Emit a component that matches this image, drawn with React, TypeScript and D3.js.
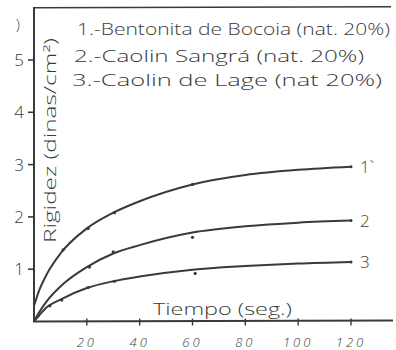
import React from "react";
import * as d3 from "d3";

// Time samples (s) and rigidity curves (dinas/cm²)
const times = [0, 2, 5, 10, 20, 30, 40, 60, 80, 100, 120];
const curve1 = [0.3, 0.6, 0.92, 1.3, 1.78, 2.08, 2.3, 2.62, 2.8, 2.9, 2.96];
const curve2 = [0.0, 0.18, 0.4, 0.67, 1.04, 1.3, 1.46, 1.7, 1.82, 1.89, 1.93];
const curve3 = [0.0, 0.12, 0.28, 0.42, 0.64, 0.77, 0.86, 0.99, 1.06, 1.11, 1.14];

// Measured points
const dots1: [number, number][] = [[11, 1.37], [20.5, 1.78], [30.5, 2.08], [60, 2.62]];
const dots2: [number, number][] = [[21, 1.04], [30, 1.33], [60, 1.61]];
const dots3: [number, number][] = [[6, 0.3], [10.5, 0.41], [20.5, 0.65], [30.5, 0.77], [61, 0.92]];

const xTicks = [20, 40, 60, 80, 100, 120];
const yTicks = [1, 2, 3, 4, 5];
const curveLabels = ["1`", "2", "3"];
const legendLines = [
  "1.-Bentonita de Bocoia (nat. 20%)",
  "2.-Caolin Sangrá (nat. 20%)",
  "3.-Caolin de Lage (nat 20%)",
];

const INK = "#3a3a3a";
const FONT = "'Open Sans', 'DejaVu Sans', sans-serif";

export default function App() {
  const x = d3.scaleLinear().domain([0, 120]).range([34, 351]);
  const y = d3.scaleLinear().domain([0, 6]).range([321.5, 7.7]);

  const line = d3
    .line<number>()
    .x((_, i) => x(times[i]))
    .y((v) => y(v))
    .curve(d3.curveMonotoneX);

  const series = [curve1, curve2, curve3];
  const dotSets = [dots1, dots2, dots3];
  const legendY = [35, 62, 86];
  const legendX = [77, 74, 72];
  const legendW = [313, 290, 310];

  return (
    <svg
      width={396}
      height={350}
      style={{ position: "absolute", left: 0, top: 0, background: "#fff" }}
      fontFamily={FONT}
      fontWeight={300}
    >
      {/* frame top and axes */}
      <line x1={33} y1={y(6)} x2={391} y2={y(6) - 1} stroke={INK} strokeWidth={1.4} />
      <line x1={x(0)} y1={y(6)} x2={x(0)} y2={y(0)} stroke={INK} strokeWidth={2} />
      <line x1={x(0) - 1} y1={y(0)} x2={393} y2={y(0) - 1} stroke={INK} strokeWidth={2} />

      {/* y ticks */}
      {yTicks.map((t) => (
        <g key={"y" + t}>
          <line x1={x(0) - 6} x2={x(0)} y1={y(t)} y2={y(t)} stroke={INK} strokeWidth={1.6} />
          <text x={19} y={y(t) + 6} fontSize={17} fill={INK} textAnchor="middle">
            {t}
          </text>
        </g>
      ))}
      <text x={18} y={30} fontSize={14} fill={INK} textAnchor="middle">)</text>

      {/* x ticks */}
      {xTicks.map((t) => (
        <g key={"x" + t}>
          <line x1={x(t)} x2={x(t)} y1={y(0) - 3} y2={y(0) + 4} stroke={INK} strokeWidth={1.4} />
          <text
            x={x(t)}
            y={347}
            fontSize={13}
            fill={INK}
            textAnchor="middle"
            fontStyle="italic"
            letterSpacing={3}
          >
            {t}
          </text>
        </g>
      ))}

      {/* axis titles */}
      <text x={153} y={315} fontSize={17} fill={INK} textLength={139} lengthAdjust="spacingAndGlyphs">
        Tiempo (seg.)
      </text>
      <text
        transform={`translate(56,243) rotate(-90)`}
        fontSize={16}
        fill={INK}
        textLength={205}
        lengthAdjust="spacingAndGlyphs"
      >
        Rigidez (dinas/cm²)
      </text>

      {/* legend */}
      {legendLines.map((s, i) => (
        <text
          key={s}
          x={legendX[i]}
          y={legendY[i]}
          fontSize={16}
          fill={INK}
          textLength={legendW[i]}
          lengthAdjust="spacingAndGlyphs"
        >
          {s}
        </text>
      ))}

      {/* curves */}
      {series.map((s, i) => (
        <g key={"c" + i}>
          <path d={line(s) ?? ""} fill="none" stroke={INK} strokeWidth={2} />
          <circle cx={x(120)} cy={y(s[s.length - 1])} r={1.5} fill={INK} />
          <text x={x(120) + 9} y={y(s[s.length - 1]) + 6} fontSize={17} fill={INK}>
            {curveLabels[i]}
          </text>
          {dotSets[i].map(([t, v], j) => (
            <circle key={j} cx={x(t)} cy={y(v)} r={1.6} fill={INK} />
          ))}
        </g>
      ))}
    </svg>
  );
}
